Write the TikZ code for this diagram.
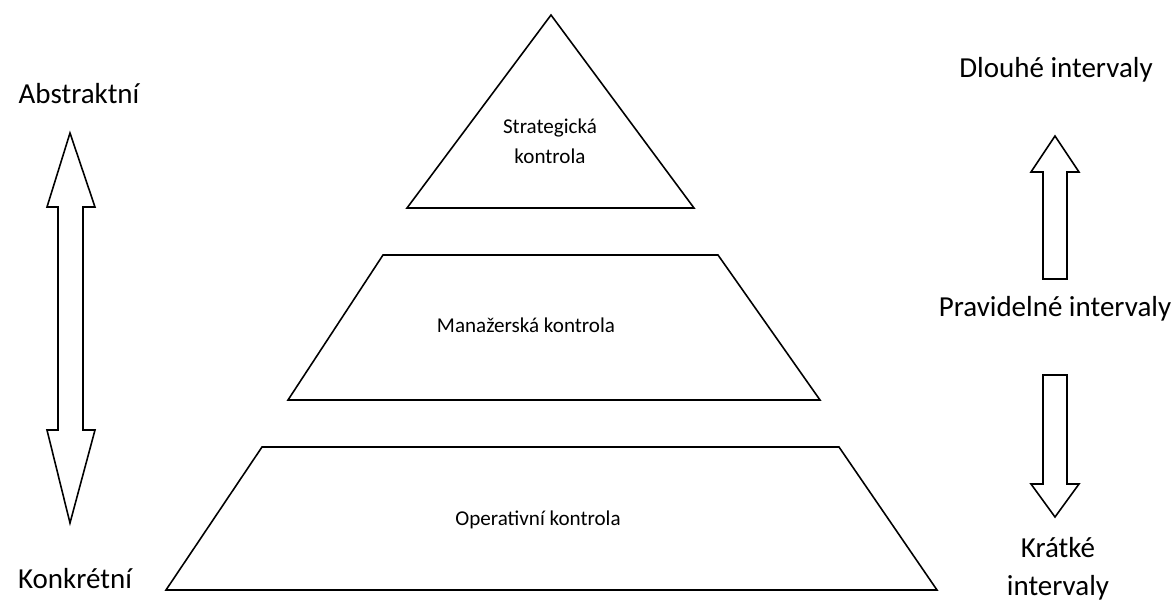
\documentclass[tikz,border=0pt]{standalone}
\usepackage{fontspec}
\setmainfont{Carlito}
\usetikzlibrary{positioning}

\begin{document}
\begin{tikzpicture}[scale=0.2]
\tikzstyle{every node}+=[inner sep=0pt]
\tikzstyle{outline}=[black, line width=0.9pt, line join=miter]
\tikzstyle{side label}=[font=\fontsize{16.5}{20}\selectfont, anchor=base]
\tikzstyle{level label}=[font=\fontsize{12}{17}\selectfont, anchor=base, align=center]
\useasboundingbox (0,0) rectangle (117.6,-60.1);
% pyramid levels
\draw [outline] (55.1,-1.5) -- (69.4,-20.8) -- (40.7,-20.8) -- cycle;
\node [level label] (strat) at (55.0,-16.3) {Strategická\\kontrola};
\draw [outline] (38.3,-25.5) -- (71.8,-25.5) -- (82.0,-40.0) -- (28.8,-40.0) -- cycle;
\node [level label] (manag) at (52.6,-33.2) {Manažerská kontrola};
\draw [outline] (26.2,-44.7) -- (83.9,-44.7) -- (93.7,-59.0) -- (16.6,-59.0) -- cycle;
\node [level label] (oper) at (53.8,-52.5) {Operativní kontrola};
% left double arrow
\draw [outline] (7.0,-13.3) -- (9.5,-20.7) -- (8.3,-20.7) -- (8.3,-43.0) -- (9.5,-43.0)
  -- (7.0,-52.3) -- (4.7,-43.0) -- (5.8,-43.0) -- (5.8,-20.7) -- (4.7,-20.7) -- cycle;
\node [side label] (abstr) at (7.9,-10.3) {Abstraktní};
\node [side label] (konkr) at (7.5,-58.8) {Konkrétní};
% right arrows
\draw [outline] (105.5,-13.6) -- (107.9,-17.2) -- (106.7,-17.2) -- (106.7,-27.9)
  -- (104.3,-27.9) -- (104.3,-17.2) -- (103.1,-17.2) -- cycle;
\draw [outline] (104.3,-37.5) -- (106.7,-37.5) -- (106.7,-48.4) -- (107.9,-48.4)
  -- (105.5,-51.7) -- (103.1,-48.4) -- (104.3,-48.4) -- cycle;
\node [side label] (long) at (105.6,-7.7) {Dlouhé intervaly};
\node [side label] (regular) at (105.5,-31.6) {Pravidelné intervaly};
\node [side label] (short) at (105.8,-55.7) {Krátké};
\node [side label] (short2) at (105.8,-59.5) {intervaly};
\end{tikzpicture}
\end{document}
